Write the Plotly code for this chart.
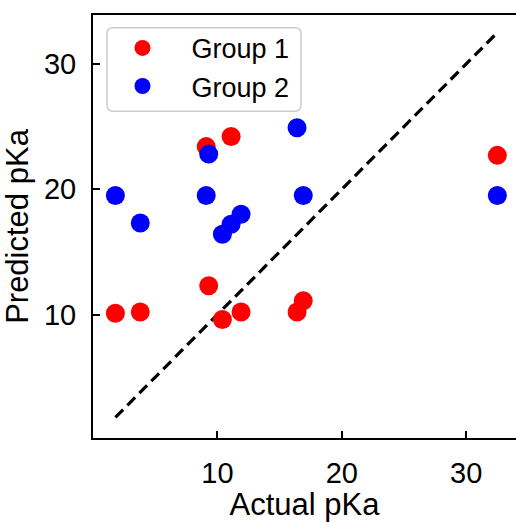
import plotly.graph_objects as go

actual = [1.8, 3.8, 9.1, 9.3, 10.4, 11.1, 11.9, 16.4, 16.9, 32.5]
pred_group1 = [10.1, 10.2, 23.4, 12.3, 9.6, 24.2, 10.2, 10.2, 11.1, 22.7]
pred_group2 = [19.5, 17.3, 19.5, 22.8, 16.4, 17.2, 18.0, 24.9, 19.5, 19.5]
series_names = ["Group 1", "Group 2"]
tick_vals = [10, 20, 30]

FONT = "Liberation Sans, Arial, sans-serif"

W, H = 516, 522
ML, MR, MT, MB = 93, 0, 15, 76
PW, PH = W - ML - MR, H - MT - MB


def px_x(fx):
    return (fx - ML) / PW


def px_y(fy):
    return 1 - (fy - MT) / PH


lo, hi = min(actual), max(actual)

fig = go.Figure()
fig.add_trace(go.Scatter(
    x=[lo, hi], y=[lo, hi], mode="lines",
    line=dict(color="black", width=3.2, dash="11px,6px"),
    showlegend=False, hoverinfo="skip"))
fig.add_trace(go.Scatter(
    x=actual, y=pred_group1, mode="markers", name=series_names[0],
    marker=dict(color="#ff0000", size=19, line=dict(width=0))))
fig.add_trace(go.Scatter(
    x=actual, y=pred_group2, mode="markers", name=series_names[1],
    marker=dict(color="#0000ff", size=19, line=dict(width=0))))

axis_common = dict(
    showgrid=False, zeroline=False, showline=True, linecolor="black",
    linewidth=2, ticks="inside", ticklen=7, tickwidth=1.5, tickcolor="black",
    tickvals=tick_vals, tickfont=dict(family=FONT, size=29, color="black"),
)

# rounded legend frame
x0, x1 = px_x(107), px_x(301)
y1, y0 = px_y(28), px_y(113)
rx, ry = 6 / PW, 6 / PH
frame = (f"M {x0+rx},{y1} L {x1-rx},{y1} Q {x1},{y1} {x1},{y1-ry} "
         f"L {x1},{y0+ry} Q {x1},{y0} {x1-rx},{y0} L {x0+rx},{y0} "
         f"Q {x0},{y0} {x0},{y0+ry} L {x0},{y1-ry} Q {x0},{y1} {x0+rx},{y1} Z")

fig.update_layout(
    width=W, height=H,
    margin=dict(l=ML, r=MR, t=MT, b=MB),
    paper_bgcolor="white", plot_bgcolor="white",
    font=dict(family=FONT, color="black"),
    xaxis=dict(range=[0, 34], mirror=True, ticklabelstandoff=8,
               title=dict(text="Actual pKa", font=dict(family=FONT, size=31), standoff=12),
               **axis_common),
    yaxis=dict(range=[0.15, 33.9], ticklabelstandoff=9,
               title=dict(text="Predicted pKa", font=dict(family=FONT, size=31), standoff=14),
               **axis_common),
    shapes=[dict(type="path", path=frame, xref="paper", yref="paper",
                 fillcolor="white", line=dict(color="#cccccc", width=1.5), layer="above")],
    legend=dict(x=px_x(93.5), y=px_y(24), xanchor="left", yanchor="top",
                bgcolor="rgba(0,0,0,0)", borderwidth=0,
                font=dict(family=FONT, size=27, color="black"),
                itemwidth=88),
)

fig.write_html(
    "out.html",
    config={"displayModeBar": False},
    post_script="document.body.style.margin='0';document.body.style.overflow='hidden';",
)
